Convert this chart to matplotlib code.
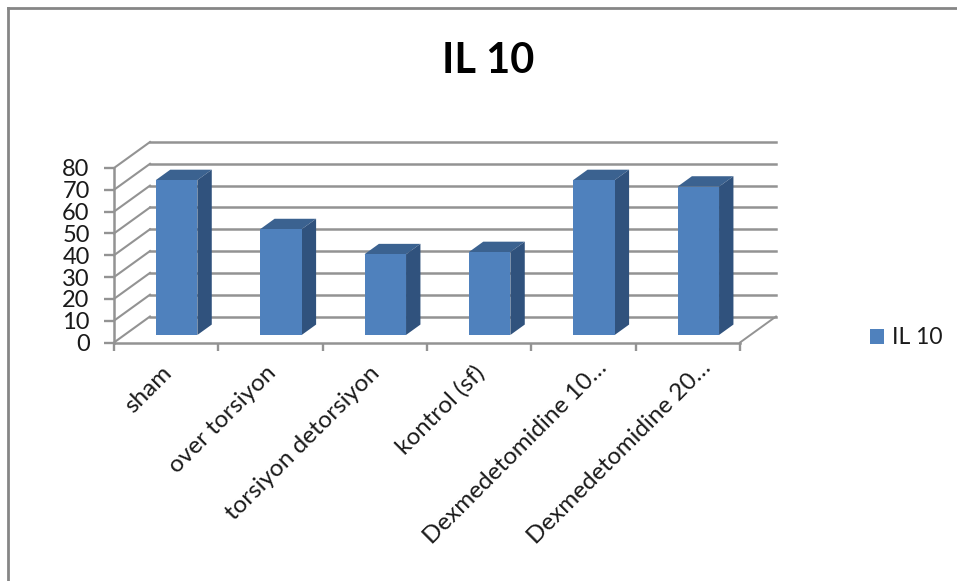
import matplotlib
matplotlib.use("Agg")
import matplotlib.pyplot as plt
from matplotlib.patches import Polygon, Patch
from matplotlib.lines import Line2D
from matplotlib.transforms import ScaledTranslation

plt.rcParams['font.family'] = ['Lato', 'DejaVu Sans']

title = "IL 10"
categories = ["sham", "over torsiyon", "torsiyon detorsiyon", "kontrol (sf)",
              "Dexmedetomidine 10\u2026", "Dexmedetomidine 20\u2026"]
values = [71, 48.5, 37, 38, 71, 68]
y_ticks = [0, 10, 20, 30, 40, 50, 60, 70, 80]

W, H = 957, 581
GRID = "#939393"
FRONT = "#4f81bd"
TOP = "#3b6290"
SIDE = "#30527d"

fig = plt.figure(figsize=(W / 100, H / 100), dpi=100, facecolor="white")

# Axes rectangle is the front face of the 3D box
left, right, bottom, top = 114, 740, 342.5, 168
ax = fig.add_axes([left / W, 1 - bottom / H, (right - left) / W, (bottom - top) / H])
ax.set_xlim(-0.5, 5.5)
ax.set_ylim(0, 80)
ax.patch.set_visible(False)

# Oblique projection: depth d in 0..1 shifts a point right and up
DX = 36 / ((right - left) / 6)
DY = 26 / ((bottom - top) / 80)


def proj(x, y, d):
    return (x + DX * d, y + DY * d)


# Back wall gridlines, side wall diagonals and floor edge
for v in y_ticks:
    x0, y0 = proj(-0.5, v, 1)
    x1, y1 = proj(5.5, v, 1)
    ax.add_line(Line2D([x0, x1], [y0, y1], color=GRID, lw=1.8, clip_on=False, zorder=1))
    ax.add_line(Line2D([-0.5, x0], [v, y0], color=GRID, lw=1.5, clip_on=False, zorder=1))
fx, fy = proj(5.5, 0, 1)
ax.add_line(Line2D([5.5, fx], [0, fy], color=GRID, lw=1.4, clip_on=False, zorder=1))

# Bars as three visible faces
BAR_W = 0.398
D0, D1 = 0.29, 0.69
for i, v in enumerate(values):
    xl, xr = i - BAR_W / 2, i + BAR_W / 2
    faces = [
        ([proj(xl, v, D0), proj(xr, v, D0), proj(xr, v, D1), proj(xl, v, D1)], TOP),
        ([proj(xr, 0, D0), proj(xr, 0, D1), proj(xr, v, D1), proj(xr, v, D0)], SIDE),
        ([proj(xl, 0, D0), proj(xr, 0, D0), proj(xr, v, D0), proj(xl, v, D0)], FRONT),
    ]
    for pts, colour in faces:
        ax.add_patch(Polygon(pts, closed=True, facecolor=colour, edgecolor="none",
                             clip_on=False, zorder=3))

for name in ("top", "right"):
    ax.spines[name].set_visible(False)
for name in ("left", "bottom"):
    ax.spines[name].set_color(GRID)
    ax.spines[name].set_linewidth(1.8)

ax.set_yticks(y_ticks)
ax.tick_params(axis="y", length=7, width=1.7, color=GRID, labelsize=17, pad=10.5,
               labelcolor="#1a1a1a")
ax.set_xticks(range(len(categories)))
ax.set_xticklabels(categories, rotation=45, ha="right", va="top",
                   rotation_mode="anchor", fontsize=17.5, color="#1a1a1a")
ax.tick_params(axis="x", which="major", length=0, pad=14)
ax.set_xticks([i - 0.5 for i in range(len(categories) + 1)], minor=True)
ax.tick_params(axis="x", which="minor", length=6, width=1.7, color=GRID)

# Nudge the slanted category labels; the truncated ones sit further along the slant
for label in ax.get_xticklabels():
    truncated = label.get_text().endswith("\u2026")
    shift = (9 / 72, 3.5 / 72) if truncated else (-4 / 72, 0)
    label.set_transform(label.get_transform()
                        + ScaledTranslation(shift[0], shift[1], fig.dpi_scale_trans))

fig.text(488.5 / W, 1 - 61 / H, title, ha="center", va="center",
         fontsize=30, fontweight="bold", color="#000000")

fig.legend(handles=[Patch(facecolor=FRONT, edgecolor="none", label=title)],
           loc="center left", bbox_to_anchor=(870 / W, 1 - 338 / H), frameon=False,
           fontsize=16.5, handlelength=0.62, handleheight=0.62, handletextpad=0.33,
           borderpad=0, borderaxespad=0, labelcolor="#1a1a1a")

# Outer chart border, top and left sides only
fig.add_artist(Line2D([8 / W, 1], [1 - 8 / H, 1 - 8 / H], color="#868686", lw=2,
                      transform=fig.transFigure))
fig.add_artist(Line2D([8 / W, 8 / W], [0, 1 - 8 / H], color="#868686", lw=2,
                      transform=fig.transFigure))

fig.savefig("out.png", dpi=100, facecolor="white")
